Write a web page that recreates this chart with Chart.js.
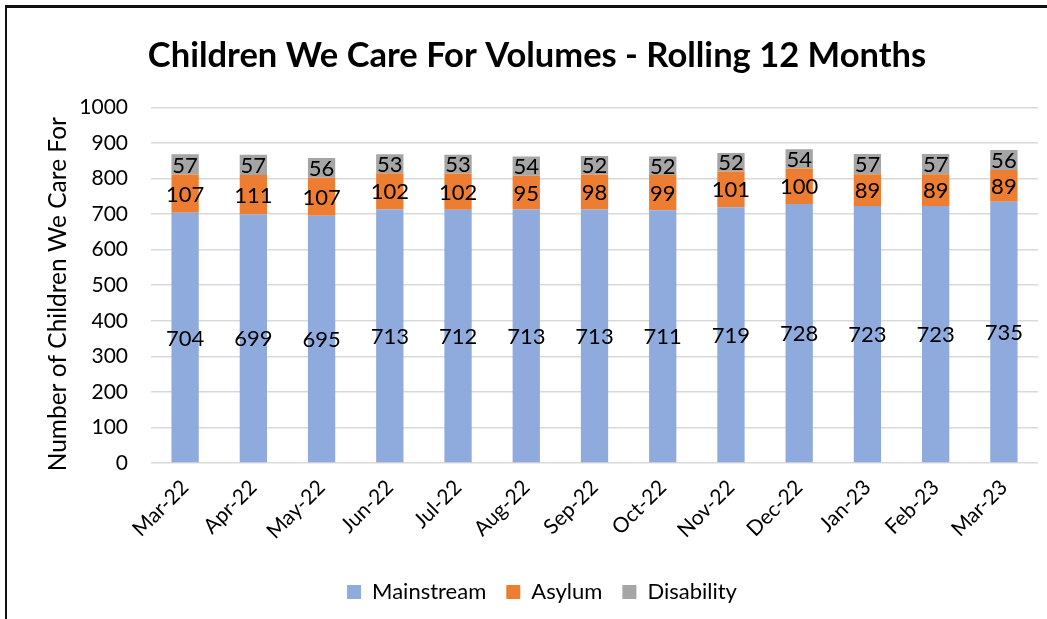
<!DOCTYPE html>
<html>
<head>
<meta charset="utf-8">
<script src="https://cdn.jsdelivr.net/npm/chart.js@4/dist/chart.umd.min.js"></script>
<style>
  html, body { margin: 0; padding: 0; background: #fff; }
  #wrap { position: relative; width: 1047px; height: 619px; overflow: hidden; }
  #frame { position: absolute; left: 5px; top: 5px; right: -10px; bottom: -10px;
           border-top: 3px solid #111; border-left: 2px solid #111; pointer-events: none; }
  canvas { position: absolute; left: 0; top: 0; }
</style>
</head>
<body>
<div id="wrap">
  <canvas id="c" width="1047" height="619"></canvas>
  <div id="frame"></div>
</div>
<script>
const categories = ["Mar-22","Apr-22","May-22","Jun-22","Jul-22","Aug-22","Sep-22","Oct-22","Nov-22","Dec-22","Jan-23","Feb-23","Mar-23"];
const mainstream = [704, 699, 695, 713, 712, 713, 713, 711, 719, 728, 723, 723, 735];
const asylum     = [107, 111, 107, 102, 102, 95, 98, 99, 101, 100, 89, 89, 89];
const disability = [57, 57, 56, 53, 53, 54, 52, 52, 52, 54, 57, 57, 56];
const yTicks = [0, 100, 200, 300, 400, 500, 600, 700, 800, 900, 1000];
const yTitle = 'Number of Children We Care For';

const FONT = "Lato, 'Open Sans', sans-serif";

const valueLabels = {
  id: 'valueLabels',
  afterDatasetsDraw(chart) {
    const ctx = chart.ctx;
    ctx.save();
    ctx.font = "22px " + FONT;
    ctx.fillStyle = '#000';
    ctx.textAlign = 'center';
    ctx.textBaseline = 'middle';
    chart.data.datasets.forEach((ds, i) => {
      const meta = chart.getDatasetMeta(i);
      meta.data.forEach((el, j) => {
        const y = (el.y + el.base) / 2;
        ctx.fillText(String(ds.data[j]), el.x, y + 1);
      });
    });
    ctx.restore();
  }
};

const yAxisTitle = {
  id: 'yAxisTitle',
  afterDraw(chart) {
    const ctx = chart.ctx;
    const area = chart.chartArea;
    ctx.save();
    ctx.font = "24.5px " + FONT;
    ctx.fillStyle = '#000';
    ctx.textAlign = 'center';
    ctx.textBaseline = 'middle';
    ctx.translate(58, (area.top + area.bottom) / 2 + 9);
    ctx.rotate(-Math.PI / 2);
    ctx.fillText(yTitle, 0, 0);
    ctx.restore();
  }
};

const legendShift = {
  id: 'legendShift',
  afterLayout(chart) {
    if (chart.legend) { chart.legend.left += 5; chart.legend.right += 5; }
  }
};

new Chart(document.getElementById('c'), {
  type: 'bar',
  data: {
    labels: categories,
    datasets: [
      { label: 'Mainstream', data: mainstream, backgroundColor: '#8FAADC' },
      { label: 'Asylum', data: asylum, backgroundColor: '#ED7D31' },
      { label: 'Disability', data: disability, backgroundColor: '#A5A5A5' }
    ]
  },
  options: {
    responsive: false,
    animation: false,
    devicePixelRatio: 1,
    layout: { padding: { left: 36, right: 9, top: 10, bottom: 6 } },
    datasets: { bar: { barPercentage: 0.4, categoryPercentage: 1.0 } },
    plugins: {
      title: {
        display: true,
        text: 'Children We Care For Volumes - Rolling 12 Months',
        color: '#000',
        font: { family: FONT, size: 34.5, weight: 'bold' },
        padding: { top: 25, bottom: 31 }
      },
      legend: {
        position: 'bottom',
        labels: {
          color: '#000',
          font: { family: FONT, size: 22 },
          boxWidth: 14, boxHeight: 14,
          padding: 20
        }
      },
      tooltip: { enabled: false }
    },
    scales: {
      x: {
        stacked: true,
        grid: { display: false },
        border: { display: false },
        ticks: { color: '#000', font: { family: FONT, size: 21 }, maxRotation: 45, minRotation: 45, padding: 4 },
        afterFit(scale) { scale.height = 98; }
      },
      y: {
        stacked: true,
        min: 0, max: 1000,
        afterBuildTicks(scale) { scale.ticks = yTicks.map(v => ({ value: v })); },
        grid: { color: '#D9D9D9', lineWidth: 1.5, drawTicks: false },
        border: { display: false },
        ticks: { color: '#000', font: { family: FONT, size: 21 }, padding: 23, callback: v => String(v) },
        title: { display: false },
        afterFit(scale) { scale.width = 115; }
      }
    }
  },
  plugins: [valueLabels, yAxisTitle, legendShift]
});
</script>
</body>
</html>
